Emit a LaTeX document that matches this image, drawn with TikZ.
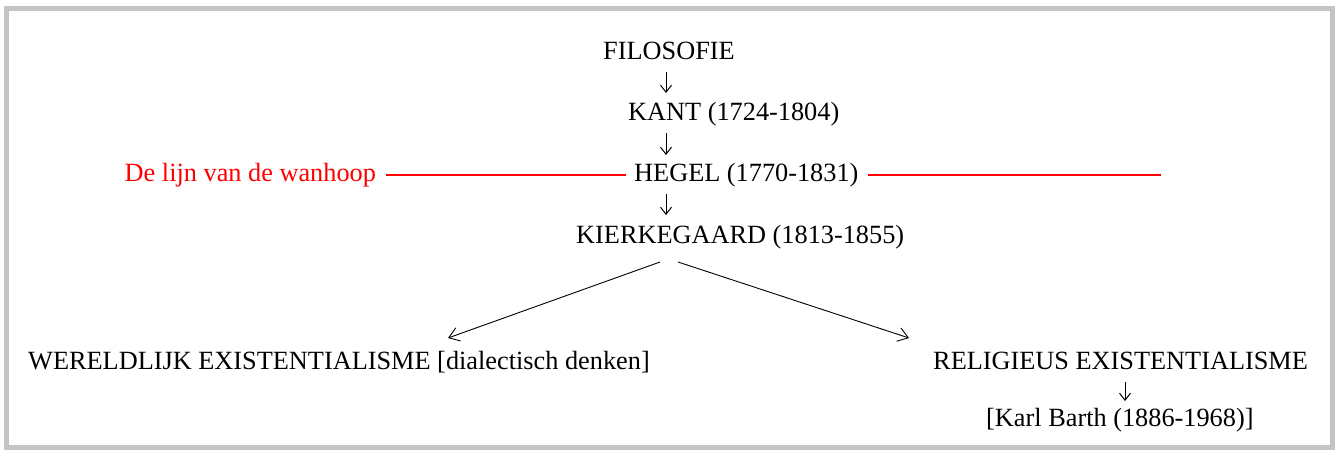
\documentclass[tikz,border=0pt]{standalone}
\usepackage{fontspec}
\setmainfont{Liberation Serif}
\usetikzlibrary{arrows.meta,calc}
\begin{document}
\begin{tikzpicture}[x=1pt,y=-1pt,
  lbl/.style={inner sep=0pt, anchor=base west, font=\fontsize{26.3}{31}\selectfont},
  glyph/.style={line width=1pt, -{Straight Barb[length=7pt,width=11pt,line width=1pt]}},
  diag/.style={line width=0.9pt, -{Straight Barb[length=10pt,width=14pt]}},
  redline/.style={red, line width=1.2pt},
  frame/.style={line width=5pt, draw=black!23}]
\useasboundingbox (0,0) rectangle (1335,450);
\draw[frame] (6.5,8) rectangle (1332.5,447.5);
\node[lbl] (filo) at (603,59) {FILOSOFIE};
\node[lbl] (kant) at (628,120) {KANT (1724-1804)};
\node[lbl] (hegel) at (634,181) {HEGEL (1770-1831)};
\node[lbl] (kierk) at (576,243) {KIERKEGAARD (1813-1855)};
\node[lbl, red] (lijn) at (124.5,181) {De lijn van de wanhoop};
\node[lbl] (werel) at (28,369) {WERELDLIJK EXISTENTIALISME [dialectisch denken]};
\node[lbl] (relig) at (933,369) {RELIGIEUS EXISTENTIALISME};
\node[lbl] (barth) at (986,426) {[Karl Barth (1886-1968)]};
\coordinate (ax) at (666,0);
\coordinate (bx) at (1125,0);
\draw[glyph] ($(ax |- filo.base)+(0,13)$) -- ($(ax |- kant.base)+(0,-27)$);
\draw[glyph] ($(ax |- kant.base)+(0,13)$) -- ($(ax |- hegel.base)+(0,-26)$);
\draw[glyph] ($(ax |- hegel.base)+(0,13)$) -- ($(ax |- kierk.base)+(0,-28)$);
\draw[glyph] ($(bx |- relig.base)+(0,13)$) -- ($(bx |- barth.base)+(0,-25)$);
\draw[diag] ($(kierk.base west)+(84,19)$) -- ($(werel.base west)+(420,-31)$);
\draw[diag] ($(kierk.base west)+(102,19)$) -- ($(relig.base west)+(-24,-31)$);
\coordinate (ly) at (0,175);
\coordinate (rend) at (1161,175);
\draw[redline, shorten <=10pt, shorten >=8pt] (lijn.east |- ly) -- (hegel.west |- ly);
\draw[redline, shorten <=9pt] (hegel.east |- ly) -- (rend);
\end{tikzpicture}
\end{document}
